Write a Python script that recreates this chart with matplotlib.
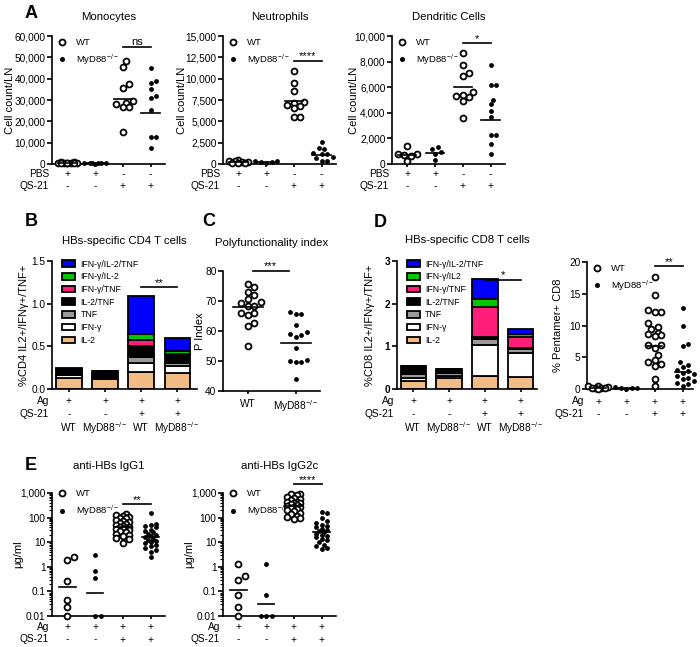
import numpy as np
import matplotlib
matplotlib.use('Agg')
import matplotlib.pyplot as plt
from matplotlib.lines import Line2D
from matplotlib.patches import Patch
from matplotlib.ticker import FuncFormatter, LogLocator, NullFormatter, FixedLocator
from matplotlib.transforms import offset_copy

plt.rcParams['font.family'] = ['Liberation Sans', 'DejaVu Sans']
plt.rcParams['mathtext.default'] = 'regular'
plt.rcParams['axes.linewidth'] = 1.2

KO = 'MyD88$^{-/-}$'

# ---------------- data ----------------
# A: cell counts per LN ; groups = WT PBS, KO PBS, WT QS-21, KO QS-21
mono_wt_pbs = [900, 750, 650, 550, 500, 450, 400, 350, 300, 250]
mono_ko_pbs = [500, 450, 400, 350, 300, 250, 200]
mono_wt_qs = [48500, 45700, 37700, 35800, 29500, 28500, 26500, 26500, 28000, 15000]
mono_ko_qs = [45000, 39000, 38000, 35200, 31800, 31000, 25100, 12700, 12700, 7300]
mono_lines = [500, 350, 30500, 24000]

neut_wt_pbs = [450, 350, 300, 250, 200, 150, 120, 100]
neut_ko_pbs = [350, 300, 250, 200, 150]
neut_wt_qs = [10900, 9500, 8600, 7300, 7200, 6900, 6800, 6600, 5500, 5500]
neut_ko_qs = [2600, 1900, 1800, 1300, 1200, 1200, 800, 700, 400, 300]
neut_lines = [250, 250, 7400, 1050]

dend_wt_pbs = [1400, 800, 750, 700, 650, 200]
dend_ko_pbs = [1350, 1200, 950, 800, 300]
dend_wt_qs = [8700, 7700, 7100, 6900, 5600, 5400, 5300, 5200, 4900, 3600]
dend_ko_qs = [7700, 6150, 6150, 5000, 4650, 4150, 3700, 2250, 2250, 1600, 800]
dend_lines = [700, 850, 6000, 3450]

# B / D: stacked cytokine subsets, bars = WT Ag, KO Ag, WT Ag+QS-21, KO Ag+QS-21
subsets = ['IL-2', 'IFN-γ', 'TNF', 'IL-2/TNF', 'IFN-γ/TNF', 'IFN-γ/IL-2', 'IFN-γ/IL-2/TNF']
subsets_cd8 = ['IL-2', 'IFN-γ', 'TNF', 'IL-2/TNF', 'IFN-γ/TNF', 'IFN-γ/IL2', 'IFN-γ/IL-2/TNF']
subset_colors = ['#F4BC85', 'white', '#9A9A9A', 'black', '#FF1F7A', '#00C800', '#0000FF']
cd4_vals = [
    [0.13, 0.12, 0.20, 0.19],
    [0.03, 0.00, 0.10, 0.08],
    [0.02, 0.00, 0.08, 0.03],
    [0.06, 0.09, 0.12, 0.10],
    [0.00, 0.00, 0.08, 0.015],
    [0.00, 0.00, 0.06, 0.03],
    [0.005, 0.00, 0.45, 0.155],
]
cd8_vals = [
    [0.19, 0.25, 0.30, 0.27],
    [0.06, 0.05, 0.73, 0.57],
    [0.10, 0.08, 0.14, 0.10],
    [0.19, 0.10, 0.05, 0.03],
    [0.005, 0.00, 0.71, 0.24],
    [0.00, 0.00, 0.18, 0.07],
    [0.005, 0.00, 0.46, 0.12],
]

# C: polyfunctionality index
pidx_wt = [75.8, 74.7, 73.0, 72.1, 70.6, 69.7, 69.3, 68.3, 68.3, 66.1, 66.1, 65.4, 62.8, 61.6, 55.0]
pidx_ko = [66.3, 65.6, 65.6, 61.9, 59.7, 58.9, 58.6, 58.0, 54.4, 50.4, 49.9, 49.7, 49.7, 43.9]
pidx_lines = [68.0, 56.1]

# D right: % pentamer+ CD8
pent_wt_ag = [0.5, 0.4, 0.3, 0.2, 0.15, 0.1, 0.1, 0.05]
pent_ko_ag = [0.3, 0.2, 0.15, 0.1, 0.05]
pent_wt_qs = [17.6, 14.8, 12.4, 12.2, 12.1, 10.4, 9.8, 9.5, 8.8, 8.6, 8.5, 8.4,
              7.0, 6.9, 6.5, 5.4, 4.5, 4.3, 4.0, 3.7, 1.6, 0.4]
pent_ko_qs = [12.8, 10.0, 7.1, 6.8, 4.2, 3.8, 3.5, 3.0, 2.8, 2.5, 2.3, 2.0, 1.8,
              1.5, 1.2, 1.0, 0.8, 0.5]
pent_lines = [0.15, 0.1, 6.7, 2.6]

# E: anti-HBs antibodies (ug/ml)
igg1_wt_ag = [2.4, 1.9, 0.27, 0.044, 0.024, 0.01]
igg1_ko_ag = [3.0, 0.7, 0.34, 0.01, 0.01]
igg1_wt_qs = [140, 130, 120, 110, 100, 95, 80, 70, 65, 60, 55, 50, 45, 42, 40, 38,
              36, 33, 30, 28, 25, 22, 20, 18, 15, 13, 9.5]
igg1_ko_qs = [160, 55, 50, 45, 40, 32, 28, 25, 22, 20, 18, 16, 14, 12, 11, 10, 9,
              8, 7, 6, 5, 4, 2.4]
igg1_lines = [0.15, 0.085, 40, 17]

igg2_wt_ag = [1.35, 0.42, 0.28, 0.069, 0.023, 0.01]
igg2_ko_ag = [1.26, 0.069, 0.01, 0.01, 0.01]
igg2_wt_qs = [950, 900, 800, 700, 600, 550, 500, 450, 420, 400, 380, 350, 330, 300,
              280, 260, 240, 220, 200, 180, 160, 140, 120, 110, 100, 90]
igg2_ko_qs = [175, 150, 100, 75, 60, 50, 45, 40, 35, 30, 28, 25, 22, 20, 18, 16,
              14, 12, 10, 8, 7, 6, 5.5]
igg2_lines = [0.11, 0.032, 300, 27]

# ---------------- figure helpers ----------------
W, H = 700, 647
fig = plt.figure(figsize=(W / 100, H / 100), dpi=100)

TICK = 7.3
OPEN_S, FILL_S = 18, 12


def px_axes(x0, y0, x1, y1):
    return fig.add_axes([x0 / W, 1 - y1 / H, (x1 - x0) / W, (y1 - y0) / H])


def style(ax):
    for s in ['top', 'right']:
        ax.spines[s].set_visible(False)
    ax.tick_params(axis='both', width=1.2, length=3.5, labelsize=TICK, pad=1.2)
    ax.tick_params(axis='x', length=2.5)


def swarm(ax, x, vals, diam, max_half):
    pts = ax.transData.transform(np.column_stack([np.full(len(vals), float(x)), vals]))
    ys = pts[:, 1]
    step = diam * 0.5
    cands = [0.0]
    k = 1
    while k * step <= max_half:
        cands += [k * step, -k * step]
        k += 1
    placed = []
    offs = np.zeros(len(vals))
    for i in np.argsort(ys):
        best, best_d = 0.0, -1
        for c in cands:
            d = min([np.hypot(c - px, ys[i] - py) for px, py in placed], default=1e9)
            if d >= diam * 0.95:
                best = c
                break
            if d > best_d:
                best, best_d = c, d
        offs[i] = best
        placed.append((best, ys[i]))
    ppu = ax.transData.transform((1, 0))[0] - ax.transData.transform((0, 0))[0]
    return x + offs / ppu


def dots(ax, groups, lines, half=0.33, max_half=11):
    for i, vals in enumerate(groups):
        open_ = i % 2 == 0
        xs = swarm(ax, i, vals, 6.5 if open_ else 5.5, max_half)
        if open_:
            ax.scatter(xs, vals, s=OPEN_S, facecolors='white', edgecolors='black',
                       linewidths=1.3, zorder=3, clip_on=False)
        else:
            ax.scatter(xs, vals, s=FILL_S, color='black', linewidths=0, zorder=3, clip_on=False)
    for i, m in enumerate(lines):
        ax.plot([i - half, i + half], [m, m], color='black', lw=1.2, zorder=4)


def add_rows(ax, xs, rows, names, dys, size=TICK):
    for row, name, dy in zip(rows, names, dys):
        tr = offset_copy(ax.get_xaxis_transform(), fig=fig, x=0, y=-dy, units='dots')
        for x, s in zip(xs, row):
            ax.text(x, 0, s, transform=tr, ha='center', va='center', fontsize=size)
        if name:
            trn = offset_copy(ax.transAxes, fig=fig, x=-3, y=-dy, units='dots')
            ax.text(0, 0, name, transform=trn, ha='right', va='center', fontsize=size)


def sig(ax, x1, x2, y, label):
    ax.plot([x1, x2], [y, y], color='black', lw=1.2, clip_on=False, zorder=5)
    tr = offset_copy(ax.transData, fig=fig, x=0, y=1.5, units='dots')
    ax.text((x1 + x2) / 2, y, label, transform=tr, ha='center', va='baseline',
            fontsize=8, clip_on=False)


def title(ax, text, dy):
    tr = offset_copy(ax.transAxes, fig=fig, x=0, y=dy, units='dots')
    ax.text(0.5, 1, text, transform=tr, ha='center', va='center', fontsize=8.2)


def ylab(ax, text, xpos):
    ax.set_ylabel(text, fontsize=8)
    ax.yaxis.label.set_va('center')
    ax.yaxis.set_label_coords(xpos, 0.5)


def dot_legend(ax, anchor):
    h = [Line2D([], [], marker='o', ls='', mfc='white', mec='black', mew=1.3, ms=4.3),
         Line2D([], [], marker='o', ls='', mfc='black', mec='black', mew=0, ms=3.6)]
    ax.legend(h, ['WT', KO], loc='upper left', bbox_to_anchor=anchor, frameon=False,
              fontsize=6.8, handlelength=0.8, handletextpad=1.1, labelspacing=0.55,
              borderpad=0, borderaxespad=0)


def letter(x, y, s):
    fig.text(x / W, 1 - y / H, s, fontsize=13, fontweight='bold', ha='center', va='center')


comma = FuncFormatter(lambda v, p: f'{v:,.0f}')
pm_pbs = [['+', '+', '-', '-'], ['-', '-', '+', '+']]
pm_ag = [['+', '+', '+', '+'], ['-', '-', '+', '+']]
geno = ['WT', KO, 'WT', KO]

# ---------------- panel A ----------------
panelA = [
    ('Monocytes', (52, 36, 165, 164), 60000, 10000,
     [mono_wt_pbs, mono_ko_pbs, mono_wt_qs, mono_ko_qs], mono_lines, 55000, 'ns', -0.37),
    ('Neutrophils', (223, 36, 336, 164), 15000, 2500,
     [neut_wt_pbs, neut_ko_pbs, neut_wt_qs, neut_ko_qs], neut_lines, 12100, '****', -0.36),
    ('Dendritic Cells', (392, 36, 505, 164), 10000, 2000,
     [dend_wt_pbs, dend_ko_pbs, dend_wt_qs, dend_ko_qs], dend_lines, 9430, '*', -0.34),
]
for name, box, top, step, groups, lines, sy, stxt, ylx in panelA:
    ax = px_axes(*box)
    style(ax)
    ax.set_xlim(-0.55, 3.52)
    ax.set_ylim(0, top)
    ax.set_yticks(np.arange(0, top + 1, step))
    ax.yaxis.set_major_formatter(comma)
    ax.set_xticks(range(4))
    ax.set_xticklabels([])
    dots(ax, groups, lines)
    sig(ax, 2, 3, sy, stxt)
    title(ax, name, 19)
    ylab(ax, 'Cell count/LN', ylx)
    dot_legend(ax, (0.055, 0.985))
    add_rows(ax, range(4), pm_pbs, ['PBS', 'QS-21'], [10.5, 22.5])

letter(31, 13, 'A')


# ---------------- panels B and D (stacked bars) ----------------
def stacked(ax, vals, names, ymax, ystep, fmt, sy, stxt, bold=False):
    style(ax)
    bottom = np.zeros(4)
    for v, c in zip(vals, subset_colors):
        ax.bar(range(4), v, 0.7, bottom=bottom, color=c, edgecolor='black', linewidth=1.3, zorder=2)
        bottom += np.array(v)
    ax.set_ylim(0, ymax)
    ax.set_yticks(np.arange(0, ymax + 1e-9, ystep))
    ax.yaxis.set_major_formatter(FuncFormatter(lambda v, p: fmt.format(v)))
    if bold:
        for t in ax.get_yticklabels():
            t.set_fontweight('bold')
    ax.set_xticks(range(4))
    ax.set_xticklabels([])
    sig(ax, 2, 3, sy, stxt)
    h = [Patch(facecolor=c, edgecolor='black', linewidth=1.3) for c in subset_colors][::-1]
    ax.legend(h, names[::-1], loc='upper left', bbox_to_anchor=(0.07, 1.01), frameon=False,
              fontsize=6.3, handlelength=1.5, handleheight=0.75, handletextpad=0.6,
              labelspacing=0.42, borderpad=0, borderaxespad=0)
    add_rows(ax, range(4), pm_ag + [geno], ['Ag', 'QS-21', ''], [12, 25, 39])


axB = px_axes(52, 261, 197, 389)
axB.set_xlim(-0.47, 3.55)
stacked(axB, cd4_vals, subsets, 1.5, 0.5, '{:.1f}', 1.19, '**')
title(axB, 'HBs-specific CD4 T cells', 20)
ylab(axB, '%CD4 IL2+/IFNγ+/TNF+', -0.19)
letter(31, 221, 'B')

axD = px_axes(397, 261, 537, 389)
axD.set_xlim(-0.45, 3.45)
stacked(axD, cd8_vals, subsets_cd8, 3, 1, '{:.0f}', 2.56, '*', bold=True)
title(axD, 'HBs-specific CD8 T cells', 21)
ylab(axD, '%CD8 IL2+/IFNγ+/TNF+', -0.19)
letter(380, 222, 'D')

# ---------------- panel C ----------------
axC = px_axes(223, 271, 320, 391)
style(axC)
axC.set_xlim(-0.52, 1.5)
axC.set_ylim(40, 80)
axC.set_yticks([40, 50, 60, 70, 80])
axC.set_xticks([0, 1])
axC.set_xticklabels(['WT', KO], fontsize=TICK)
axC.tick_params(axis='x', pad=3)
dots(axC, [pidx_wt, pidx_ko], pidx_lines, half=0.32, max_half=14)
sig(axC, 0.1, 0.85, 80, '***')
title(axC, 'Polyfunctionality index', 28)
ylab(axC, 'P Index', -0.24)
letter(209, 221, 'C')

# ---------------- panel D right ----------------
axP = px_axes(587, 262, 693, 389)
style(axP)
axP.set_xlim(-0.39, 3.36)
axP.set_ylim(0, 20)
axP.set_yticks([0, 5, 10, 15, 20])
axP.set_xticks(range(4))
axP.set_xticklabels([])
dots(axP, [pent_wt_ag, pent_ko_ag, pent_wt_qs, pent_ko_qs], pent_lines, half=0.28)
sig(axP, 2, 3, 19.3, '**')
ylab(axP, '% Pentamer+ CD8', -0.27)
dot_legend(axP, (0.055, 0.985))
add_rows(axP, range(4), pm_ag, ['Ag', 'QS-21'], [12.5, 25])


# ---------------- panel E ----------------
def logfmt(v, p):
    return f'{v:,.0f}' if v >= 1 else f'{v:g}'


panelE = [
    ('anti-HBs IgG1', (52, 493, 165, 616),
     [igg1_wt_ag, igg1_ko_ag, igg1_wt_qs, igg1_ko_qs], igg1_lines, 345, '**'),
    ('anti-HBs IgG2c', (223, 493, 336, 616),
     [igg2_wt_ag, igg2_ko_ag, igg2_wt_qs, igg2_ko_qs], igg2_lines, 2270, '****'),
]
for name, box, groups, lines, sy, stxt in panelE:
    ax = px_axes(*box)
    style(ax)
    ax.set_yscale('log')
    ax.set_xlim(-0.55, 3.52)
    ax.set_ylim(0.01, 1000)
    ax.yaxis.set_major_locator(FixedLocator([0.01, 0.1, 1, 10, 100, 1000]))
    ax.yaxis.set_major_formatter(FuncFormatter(logfmt))
    ax.yaxis.set_minor_locator(LogLocator(base=10, subs=np.arange(2, 10)))
    ax.yaxis.set_minor_formatter(NullFormatter())
    ax.tick_params(axis='y', which='minor', length=2, width=0.8)
    ax.set_xticks(range(4))
    ax.set_xticklabels([])
    dots(ax, groups, lines, half=0.3, max_half=8)
    sig(ax, 2, 3, sy, stxt)
    title(ax, name, 27)
    ylab(ax, 'μg/ml', -0.3)
    dot_legend(ax, (0.055, 1.03))
    add_rows(ax, range(4), pm_ag, ['Ag', 'QS-21'], [11, 23.5])

letter(31, 466, 'E')

fig.savefig('out.png', dpi=100)
